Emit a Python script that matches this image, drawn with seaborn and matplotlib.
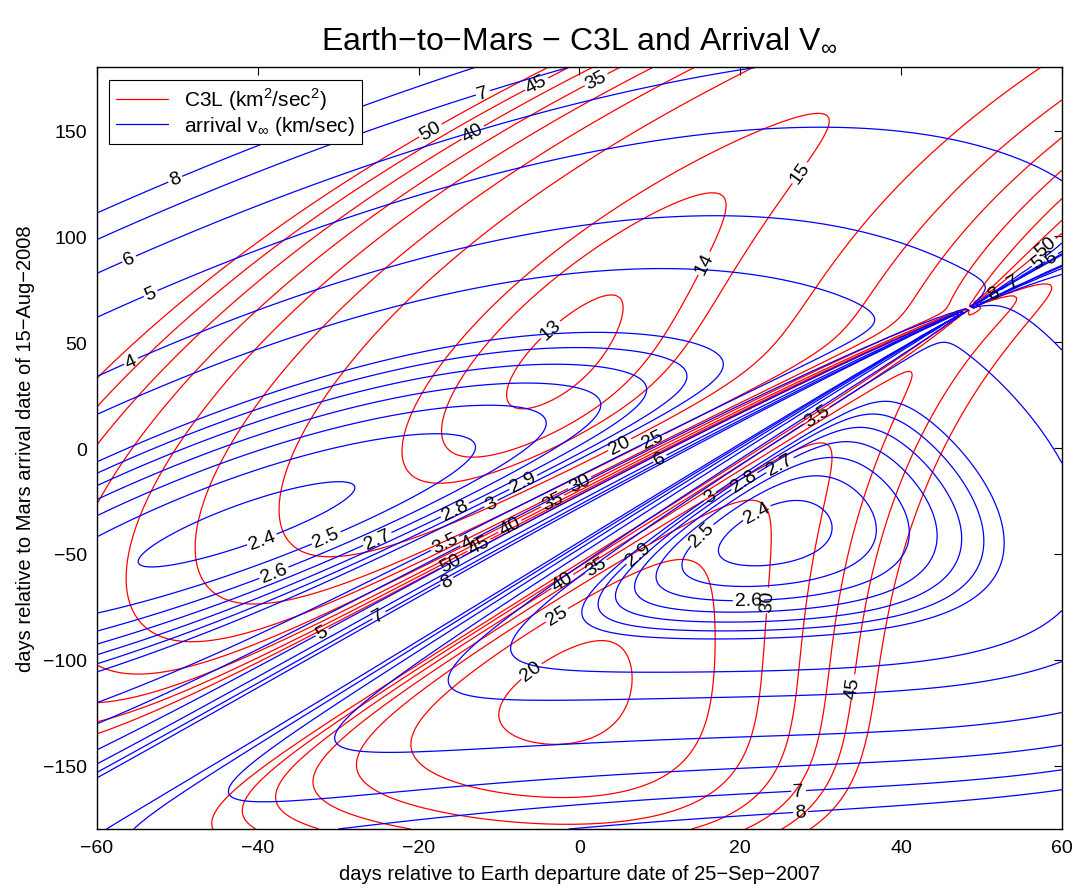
import numpy as np
import matplotlib
matplotlib.use("Agg")
import matplotlib.pyplot as plt
from matplotlib.lines import Line2D
import seaborn as sns

# launch / arrival reference dates (Julian dates, 0h UT)
jd_depart0 = 2454368.5   # 25-Sep-2007
jd_arrive0 = 2454693.5   # 15-Aug-2008
depart_days = np.arange(-60, 60.5, 0.5)
arrive_days = np.arange(-180, 181, 1.0)

c3_levels = [13, 14, 15, 20, 25, 30, 35, 40, 45, 50]
vinf_levels = [2.4, 2.5, 2.6, 2.7, 2.8, 2.9, 3, 3.5, 4, 5, 6, 7, 8]
xticks = [-60, -40, -20, 0, 20, 40, 60]
yticks = [-150, -100, -50, 0, 50, 100, 150]

# approximate mean elements (a AU, e, I, L, long.peri, long.node) and rates / century
earth_el = [1.00000261, 0.01671123, -0.00001531, 100.46457166, 102.93768193, 0.0]
earth_rt = [0.00000562, -0.00004392, -0.01294668, 35999.37244981, 0.32327364, 0.0]
mars_el = [1.52371034, 0.09339410, 1.84969142, -4.55343205, -23.94362959, 49.55953891]
mars_rt = [0.00001847, 0.00007882, -0.00813131, 19140.30268499, 0.44441088, -0.29257343]

MU = 1.32712440018e11
AU = 1.495978707e8


def planet_state(el, rt, jd):
    T = (jd - 2451545.0) / 36525.0
    a, e, inc, L, wbar, node = [el[k] + rt[k] * T for k in range(6)]
    a = a * AU
    inc, L, wbar, node = np.radians(inc), np.radians(L), np.radians(wbar), np.radians(node)
    w = wbar - node
    M = np.mod(L - wbar + np.pi, 2 * np.pi) - np.pi
    E = M.copy()
    for _ in range(30):
        E = E - (E - e * np.sin(E) - M) / (1 - e * np.cos(E))
    nu = 2 * np.arctan2(np.sqrt(1 + e) * np.sin(E / 2), np.sqrt(1 - e) * np.cos(E / 2))
    p = a * (1 - e ** 2)
    r = p / (1 + e * np.cos(nu))
    xp, yp = r * np.cos(nu), r * np.sin(nu)
    vxp = -np.sqrt(MU / p) * np.sin(nu)
    vyp = np.sqrt(MU / p) * (e + np.cos(nu))
    cO, sO, cw, sw, ci, si = np.cos(node), np.sin(node), np.cos(w), np.sin(w), np.cos(inc), np.sin(inc)
    R = np.array([[cO * cw - sO * sw * ci, -cO * sw - sO * cw * ci],
                  [sO * cw + cO * sw * ci, -sO * sw + cO * cw * ci],
                  [sw * si, cw * si]])
    pos = np.stack([R[i, 0] * xp + R[i, 1] * yp for i in range(3)], axis=-1)
    vel = np.stack([R[i, 0] * vxp + R[i, 1] * vyp for i in range(3)], axis=-1)
    return pos, vel


def stumpff(z):
    C = np.full_like(z, 0.5)
    S = np.full_like(z, 1.0 / 6)
    p = z > 1e-8
    n = z < -1e-8
    sz = np.sqrt(z[p]); C[p] = (1 - np.cos(sz)) / z[p]; S[p] = (sz - np.sin(sz)) / sz ** 3
    sz = np.sqrt(-z[n]); C[n] = (np.cosh(sz) - 1) / (-z[n]); S[n] = (np.sinh(sz) - sz) / sz ** 3
    return C, S


def lambert(r1, r2, dt):
    n1 = np.linalg.norm(r1, axis=-1)
    n2 = np.linalg.norm(r2, axis=-1)
    cosd = np.clip(np.sum(r1 * r2, axis=-1) / (n1 * n2), -1, 1)
    crz = r1[..., 0] * r2[..., 1] - r1[..., 1] * r2[..., 0]
    dth = np.where(crz >= 0, np.arccos(cosd), 2 * np.pi - np.arccos(cosd))
    A = np.sin(dth) * np.sqrt(n1 * n2 / (1 - np.cos(dth)))
    lo = np.full_like(dt, -40.0)
    hi = np.full_like(dt, 4 * np.pi ** 2 - 1e-6)

    def F(z):
        C, S = stumpff(z)
        y = n1 + n2 + A * (z * S - 1) / np.sqrt(C)
        val = (np.abs(y) / C) ** 1.5 * S + A * np.sqrt(np.abs(y)) - np.sqrt(MU) * dt
        return np.where(y < 0, -1e30, val), y

    for _ in range(80):
        mid = 0.5 * (lo + hi)
        f, _ = F(mid)
        lo = np.where(f < 0, mid, lo)
        hi = np.where(f >= 0, mid, hi)
    z = 0.5 * (lo + hi)
    _, y = F(z)
    f = 1 - y / n1
    g = A * np.sqrt(y / MU)
    gd = 1 - y / n2
    v1 = (r2 - f[..., None] * r1) / g[..., None]
    v2 = (gd[..., None] * r2 - r1) / g[..., None]
    return v1, v2


DX, DY = np.meshgrid(depart_days, arrive_days)
rE, vE = planet_state(earth_el, earth_rt, jd_depart0 + DX)
rM, vM = planet_state(mars_el, mars_rt, jd_arrive0 + DY)
tof = ((jd_arrive0 + DY) - (jd_depart0 + DX)) * 86400.0
v1, v2 = lambert(rE, rM, tof)
c3 = np.sum((v1 - vE) ** 2, axis=-1)
vinf = np.linalg.norm(v2 - vM, axis=-1)
c3 = np.where(np.isfinite(c3), np.minimum(c3, 200), 200)
vinf = np.where(np.isfinite(vinf), np.minimum(vinf, 30), 30)

sns.set_theme(style="white")
plt.rcParams['font.family'] = ['Liberation Sans', 'DejaVu Sans']
plt.rcParams['mathtext.fontset'] = 'custom'
plt.rcParams['mathtext.rm'] = 'Liberation Sans'
plt.rcParams['text.color'] = 'black'
plt.rcParams['axes.labelcolor'] = 'black'

fig = plt.figure(figsize=(10.81, 8.95), dpi=100)
ax = fig.add_axes([0.0897, 0.0726, 0.8927, 0.8514])

cs1 = ax.contour(DX, DY, c3, levels=c3_levels, colors='red', linewidths=0.9)
cs2 = ax.contour(DX, DY, vinf, levels=vinf_levels, colors='blue', linewidths=0.9)
ax.clabel(cs1, fmt='%g', fontsize=14, colors='black', inline=True, inline_spacing=2)
ax.clabel(cs2, fmt='%g', fontsize=14, colors='black', inline=True, inline_spacing=2)

ax.set_xlim(-60, 60)
ax.set_ylim(-180, 180)
ax.set_xticks(xticks)
ax.set_yticks(yticks)
ax.set_xticklabels([str(t).replace('-', '\u2212') for t in xticks])
ax.set_yticklabels([str(t).replace('-', '\u2212') for t in yticks])
ax.tick_params(direction='in', top=True, right=True, length=6, width=0.8,
               labelsize=14, colors='black', pad=7)
for s in ax.spines.values():
    s.set_color('black')
    s.set_linewidth(1.0)

ax.set_xlabel('days relative to Earth departure date of 25\u2212Sep\u22122007', fontsize=14.5, labelpad=6)
ax.set_ylabel('days relative to Mars arrival date of 15\u2212Aug\u22122008', fontsize=14.5, labelpad=6)
ax.set_title('Earth\u2212to\u2212Mars \u2212 C3L and Arrival V$_\\infty$', fontsize=23, pad=14, color='black')

handles = [Line2D([], [], color='red', lw=0.9), Line2D([], [], color='blue', lw=0.9)]
leg = ax.legend(handles, ['C3L (km$^2$/sec$^2$)', 'arrival v$_\\infty$ (km/sec)'],
                loc='upper left', fontsize=15, fancybox=False, framealpha=1,
                edgecolor='black', borderaxespad=0.6, handlelength=2.5,
                labelspacing=0.1, borderpad=0.3)
leg.get_frame().set_linewidth(0.8)

fig.savefig('out.png', dpi=100)
